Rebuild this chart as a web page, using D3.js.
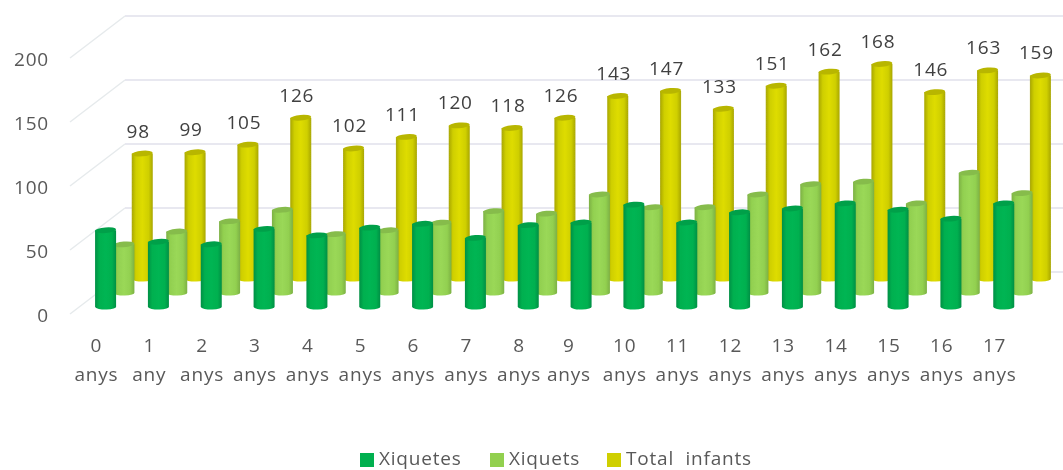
<!DOCTYPE html>
<html>
<head>
<meta charset="utf-8">
<script src="https://cdn.jsdelivr.net/npm/d3@7"></script>
<style>
    html, body { margin: 0; padding: 0; background: #fff; }
    text { font-family: "Open Sans", sans-serif; }
</style>
</head>
<body>
<svg id="chart" width="1063" height="470"></svg>
<script>
var ages = ["0 anys", "1 any", "2 anys", "3 anys", "4 anys", "5 anys", "6 anys", "7 anys", "8 anys",
            "9 anys", "10 anys", "11 anys", "12 anys", "13 anys", "14 anys", "15 anys", "16 anys", "17 anys"];
var xiquetes = [60, 51, 49, 61, 56, 62, 65, 54, 64, 66, 80, 66, 74, 77, 81, 76, 69, 81];
var xiquets = [38, 48, 56, 65, 46, 49, 55, 64, 62, 77, 67, 67, 77, 85, 87, 70, 94, 78];
var total = [98, 99, 105, 126, 102, 111, 120, 118, 126, 143, 147, 133, 151, 162, 168, 146, 163, 159];
var seriesNames = ["Xiquetes", "Xiquets", "Total  infants"];
var seriesValues = [xiquetes, xiquets, total];
var seriesColors = ["#00b050", "#92d050", "#cfcf00"];
var edgeColors = ["#008f44", "#7cb044", "#a8a608"];
var lightColors = ["#00b552", "#9ad858", "#dedc00"];
var topColors = ["#00a04a", "#86bc4c", "#b8b600"];
var valueTicks = [0, 50, 100, 150, 200];

var svg = d3.select("#chart");
var defs = svg.append("defs");

// лёгкое размытие, картинка-образец мягкая
defs.append("filter").attr("id", "soft")
    .append("feGaussianBlur").attr("stdDeviation", 0.45);
var root = svg.append("g").attr("filter", "url(#soft)");

var x = d3.scaleBand().domain(ages).range([70, 1021]);
var y = d3.scaleLinear().domain([0, 200]).range([314, 58]);

// глубина: ряды уходят назад и вправо
var depthX = d3.scaleBand().domain(seriesNames).range([0, 55]);
var depthY = d3.scaleBand().domain(seriesNames).range([0, 42]);

var backX = depthX.range()[1];
var backY = depthY.range()[1];
var barW = 21;
var ry = 2.8;
var fontSize = 19;
var spacing = 0.8;

// стены
var grid = root.append("g");
grid.selectAll("line.wall")
    .data(valueTicks)
    .enter().append("line")
    .attr("class", "wall")
    .attr("x1", x.range()[0] + backX)
    .attr("x2", 1063)
    .attr("y1", function(d) { return y(d) - backY; })
    .attr("y2", function(d) { return y(d) - backY; })
    .attr("stroke", "#e8e8f0")
    .attr("stroke-width", 2);
grid.selectAll("line.side")
    .data(valueTicks)
    .enter().append("line")
    .attr("class", "side")
    .attr("x1", x.range()[0])
    .attr("x2", x.range()[0] + backX)
    .attr("y1", function(d) { return y(d); })
    .attr("y2", function(d) { return y(d) - backY; })
    .attr("stroke", "#e6eaec")
    .attr("stroke-width", 1.5);

// градиенты цилиндров
seriesNames.forEach(function(name, s) {
    var grad = defs.append("linearGradient").attr("id", "cyl" + s);
    grad.append("stop").attr("offset", "0%").attr("stop-color", edgeColors[s]);
    grad.append("stop").attr("offset", "20%").attr("stop-color", seriesColors[s]);
    grad.append("stop").attr("offset", "50%").attr("stop-color", lightColors[s]);
    grad.append("stop").attr("offset", "80%").attr("stop-color", seriesColors[s]);
    grad.append("stop").attr("offset", "100%").attr("stop-color", edgeColors[s]);
});

// сзади наперёд
d3.range(seriesNames.length - 1, -1, -1).forEach(function(s) {
    var name = seriesNames[s];
    var dx = depthX(name) + depthX.bandwidth() / 2;
    var dy = depthY(name) + depthY.bandwidth() / 2;

    var rows = ages.map(function(a, i) {
        return { age: a, value: seriesValues[s][i] };
    });

    var bars = root.append("g").selectAll("g")
        .data(rows)
        .enter().append("g")
        .attr("transform", function(d) {
            return "translate(" + (x(d.age) + x.bandwidth() / 2 + dx) + ",0)";
        });

    bars.append("path")
        .attr("fill", "url(#cyl" + s + ")")
        .attr("d", function(d) {
            var base = y(0) - dy;
            var top = y(d.value) - dy;
            return "M" + (-barW / 2) + "," + top +
                "L" + (-barW / 2) + "," + base +
                "A" + (barW / 2) + "," + ry + " 0 0 0 " + (barW / 2) + "," + (base - 0.5) +
                "L" + (barW / 2) + "," + top + "Z";
        });

    bars.append("ellipse")
        .attr("rx", barW / 2)
        .attr("ry", ry)
        .attr("transform", function(d) {
            return "translate(0," + (y(d.value) - dy) + ") rotate(-5)";
        })
        .attr("fill", topColors[s]);
});

// подписи значений над жёлтыми столбиками
var totalDx = depthX(seriesNames[2]) + depthX.bandwidth() / 2;
var totalDy = depthY(seriesNames[2]) + depthY.bandwidth() / 2;
root.append("g").selectAll("text")
    .data(total)
    .enter().append("text")
    .attr("x", function(d, i) { return x(ages[i]) + x.bandwidth() / 2 + totalDx - 4; })
    .attr("y", function(d) { return y(d) - totalDy - 16; })
    .attr("text-anchor", "middle")
    .attr("font-size", fontSize)
    .attr("letter-spacing", spacing)
    .attr("fill", "#404040")
    .text(function(d) { return d; });

// ось значений
var yAxis = root.append("g")
    .attr("transform", "translate(52,1.5)")
    .call(d3.axisLeft(y).tickValues(valueTicks).tickSize(0));
yAxis.select(".domain").remove();
yAxis.selectAll("text")
    .attr("font-size", fontSize)
    .attr("letter-spacing", spacing)
    .attr("font-family", null)
    .attr("fill", "#595959");

// ось возрастов, две строки
var xAxis = root.append("g")
    .attr("transform", "translate(0,346)")
    .call(d3.axisBottom(x).tickSize(0).tickFormat(""));
xAxis.select(".domain").remove();
xAxis.selectAll(".tick text").each(function(d) {
    var parts = d.split(" ");
    var nudge = d === "9 anys" ? -3 : 0;
    var t = d3.select(this)
        .attr("y", 0)
        .attr("dy", null)
        .attr("font-size", fontSize)
        .attr("letter-spacing", spacing)
        .attr("font-family", null)
        .attr("fill", "#595959")
        .text(null);
    t.append("tspan").attr("x", nudge).attr("y", 6).text(parts[0]);
    t.append("tspan").attr("x", nudge).attr("y", 35).text(parts[1]);
});

// легенда
var legendX = d3.scaleOrdinal().domain(seriesNames).range([360, 490, 607]);
var legend = root.append("g").selectAll("g")
    .data(seriesNames)
    .enter().append("g")
    .attr("transform", function(d) { return "translate(" + legendX(d) + ",453)"; });
legend.append("rect")
    .attr("width", 14)
    .attr("height", 14)
    .attr("fill", function(d, i) { return seriesColors[i]; });
legend.append("text")
    .attr("x", 19)
    .attr("y", 12)
    .attr("font-size", fontSize)
    .attr("letter-spacing", spacing)
    .attr("fill", "#595959")
    .style("white-space", "pre")
    .text(function(d) { return d; });
</script>
</body>
</html>
